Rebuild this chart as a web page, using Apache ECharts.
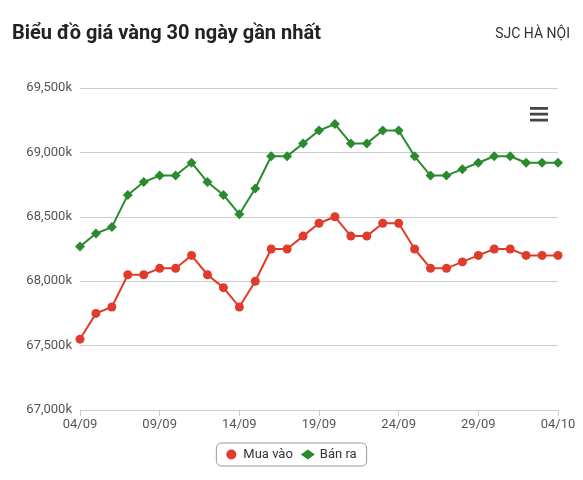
<!DOCTYPE html><html><head><meta charset="utf-8"><script src="https://cdn.jsdelivr.net/npm/echarts@6/dist/echarts.min.js"></script>
<style>body{margin:0}#c{width:583px;height:480px}</style></head><body><div id="c"></div><script>
const dates=[];for(let d=4;d<=30;d++)dates.push(String(d).padStart(2,'0')+'/09');for(let d=1;d<=4;d++)dates.push('0'+d+'/10');
const muaVao=[67550,67750,67800,68050,68050,68100,68100,68200,68050,67950,67800,68000,68250,68250,68350,68450,68500,68350,68350,68450,68450,68250,68100,68100,68150,68200,68250,68250,68200,68200,68200];
const banRa=[68270,68370,68420,68670,68770,68820,68820,68920,68770,68670,68520,68720,68970,68970,69070,69170,69220,69070,69070,69170,69170,68970,68820,68820,68870,68920,68970,68970,68920,68920,68920];
const c=echarts.init(document.getElementById('c'));
c.setOption({animation:false,
title:[{text:'Biểu đồ giá vàng 30 ngày gần nhất',left:7,top:19,textStyle:{fontFamily:'Roboto',fontSize:20,fontWeight:'bold',color:'#222'}},
{text:'SJC HÀ NỘI',right:8,top:22,textStyle:{fontFamily:'Roboto',fontSize:14,fontWeight:'normal',color:'#333'}}],
toolbox:{right:20,top:92,itemSize:18,feature:{myMenu:{show:true,title:'',icon:'path://M0,2H20V5H0ZM0,8.5H20V11.5H0ZM0,15H20V18H0Z',onclick:function(){}}},iconStyle:{color:'#444',borderWidth:0}},
legend:{bottom:14,left:'center',padding:[5,10],borderColor:'#999',borderWidth:1,borderRadius:5,itemWidth:14,itemHeight:10,textStyle:{fontFamily:'Roboto',fontSize:13,color:'#333'},data:[{name:'Mua vào',icon:'circle'},{name:'Bán ra',icon:'diamond'}]},
grid:{left:80,right:25,top:88,bottom:70},
xAxis:{type:'category',data:dates,boundaryGap:false,axisLine:{lineStyle:{color:'#ccc'}},axisTick:{show:true,interval:4,length:6,lineStyle:{color:'#ccc'}},
axisLabel:{interval:4,color:'#555',fontFamily:'Roboto',fontSize:13,formatter:(v,i)=>i%5===0?v:''}},
yAxis:{type:'value',min:67000,max:69500,interval:500,axisLabel:{color:'#555',fontFamily:'Roboto',fontSize:13,formatter:v=>(v/1000).toFixed(3).replace('.',',')+'k'},splitLine:{lineStyle:{color:'#ccc'}}},
series:[{name:'Mua vào',type:'line',data:muaVao,symbol:'circle',symbolSize:9,color:'#e03b2b',lineStyle:{width:2}},
{name:'Bán ra',type:'line',data:banRa,symbol:'diamond',symbolSize:10,color:'#2a8a2e',lineStyle:{width:2}}]});
</script></body></html>
